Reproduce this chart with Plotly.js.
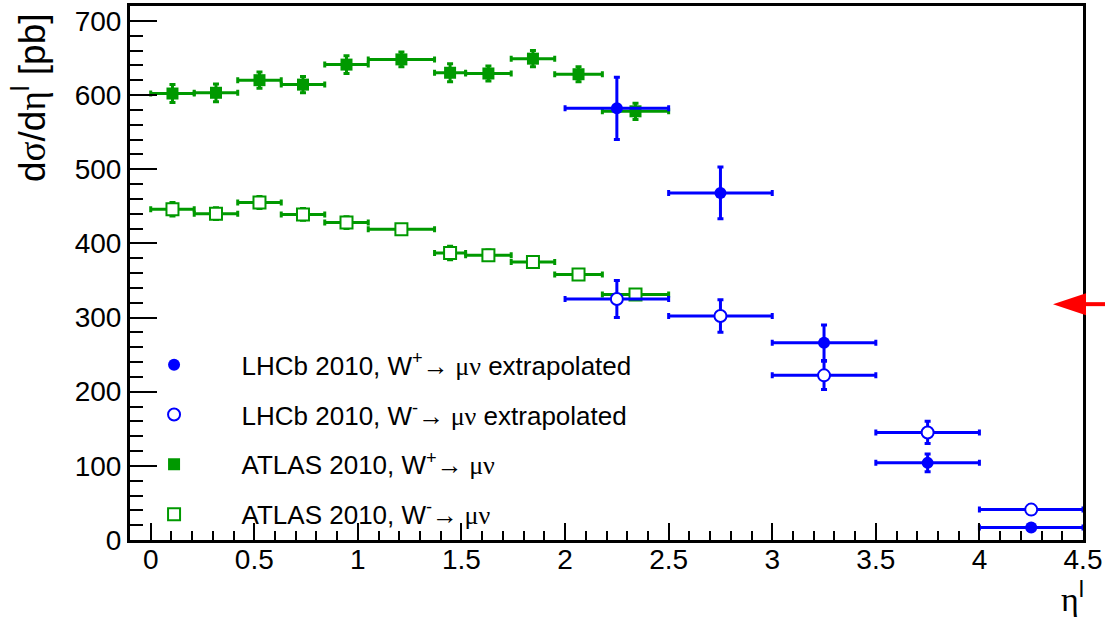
<!DOCTYPE html>
<html>
<head>
<meta charset="utf-8">
<script src="https://cdn.plot.ly/plotly-3.0.1.min.js"></script>
<style>
html,body{margin:0;padding:0;background:#fff;}
#chart{width:1105px;height:617px;}
</style>
</head>
<body>
<div id="chart"></div>
<script>
// ---- data ----
// ATLAS 2010 bins in |eta|
const atlasEdgesLo = [0.00, 0.21, 0.42, 0.63, 0.84, 1.05, 1.37, 1.52, 1.74, 1.95, 2.18];
const atlasEdgesHi = [0.21, 0.42, 0.63, 0.84, 1.05, 1.37, 1.52, 1.74, 1.95, 2.18, 2.50];
const atlasWplus     = [602, 603, 620, 614, 641, 648, 630, 629, 649, 628, 578];
const atlasWplusErr  = [12, 12, 11, 11, 12, 10, 12, 10, 11, 10, 11];
const atlasWminus    = [446, 440, 455, 439, 428, 419, 387, 384, 375, 358, 331];
const atlasWminusErr = [9, 8, 8, 8, 8, 6, 9, 7, 7, 5, 6];

// LHCb 2010 bins in eta
const lhcbEdgesLo = [2.0, 2.5, 3.0, 3.5, 4.0];
const lhcbEdgesHi = [2.5, 3.0, 3.5, 4.0, 4.5];
const lhcbWplus     = [582, 468, 266, 104, 17];
const lhcbWplusErr  = [42, 35, 24, 12, 3];
const lhcbWminus    = [325, 302, 222, 145, 41];
const lhcbWminusErr = [25, 22, 19, 15, 3];

// red arrow marker on the right edge
const arrowValue = 318;

const xRange = [-0.1, 4.5];
const yRange = [0, 720];

const xTickVals = [0, 0.5, 1, 1.5, 2, 2.5, 3, 3.5, 4, 4.5];
const xTickText = ['0', '0.5', '1', '1.5', '2', '2.5', '3', '3.5', '4', '4.5'];
const yTickVals = [0, 100, 200, 300, 400, 500, 600, 700];
const yTickText = ['0', '100', '200', '300', '400', '500', '600', '700'];

const ARROW = '<span style="font-family:\'Liberation Serif\'">\u2192</span>';
const MUNU = '<span style="font-family:\'Liberation Serif\'"> \u03bc\u03bd</span>';
const legendNames = [
  'LHCb 2010, W<sup>+</sup>' + ARROW + MUNU + ' extrapolated',
  'LHCb 2010, W<sup>-</sup>' + ARROW + MUNU + ' extrapolated',
  'ATLAS 2010, W<sup>+</sup>' + ARROW + MUNU,
  'ATLAS 2010, W<sup>-</sup>' + ARROW + MUNU
];

// ---- derived ----
const mid = (lo, hi) => lo.map((l, i) => (l + hi[i]) / 2);
const half = (lo, hi) => lo.map((l, i) => (hi[i] - l) / 2);

const BLUE = '#0000ff';
const GREEN = '#009900';
const FONT = '"Liberation Sans", Arial, Helvetica, sans-serif';

function trace(x, xe, y, ye, color, symbol, open, name, group) {
  return {
    type: 'scatter', mode: 'markers', name: name,
    legendgroup: group,
    x: x, y: y,
    error_x: {type: 'data', array: xe, symmetric: true, color: color, thickness: 3, width: 3},
    error_y: {type: 'data', array: ye, symmetric: true, color: color, thickness: 3, width: 3},
    marker: {
      symbol: symbol, size: 12,
      color: open ? '#ffffff' : color,
      line: {color: color, width: open ? 2 : 0}
    },
    cliponaxis: false
  };
}

const ax = mid(atlasEdgesLo, atlasEdgesHi), axe = half(atlasEdgesLo, atlasEdgesHi);
const lx = mid(lhcbEdgesLo, lhcbEdgesHi), lxe = half(lhcbEdgesLo, lhcbEdgesHi);

const data = [
  trace(ax, axe, atlasWplus, atlasWplusErr, GREEN, 'square', false, legendNames[2], 'g3'),
  trace(ax, axe, atlasWminus, atlasWminusErr, GREEN, 'square', true, legendNames[3], 'g4'),
  trace(lx, lxe, lhcbWplus, lhcbWplusErr, BLUE, 'circle', false, legendNames[0], 'g1'),
  trace(lx, lxe, lhcbWminus, lhcbWminusErr, BLUE, 'circle', true, legendNames[1], 'g2')
];
// legend order: LHCb first
data[0].legendrank = 3; data[1].legendrank = 4; data[2].legendrank = 1; data[3].legendrank = 2;

// arrow geometry in paper coords
const plotL = 130, plotR = 1083, plotT = 6, plotB = 540;
const pw = plotR - plotL, ph = plotB - plotT;
const ay = (arrowValue - yRange[0]) / (yRange[1] - yRange[0]);
const tipX = (1053 - plotL) / pw, baseX = (1086 - plotL) / pw, endX = (1105 - plotL) / pw;
const hh = 11 / ph;

const layout = {
  width: 1105, height: 617,
  margin: {l: plotL, r: 1105 - plotR, t: plotT, b: 617 - plotB, pad: 0},
  paper_bgcolor: '#ffffff', plot_bgcolor: '#ffffff',
  font: {family: FONT, color: '#000', size: 26},
  showlegend: true,
  legend: {
    x: -0.0246, y: 0.372, xanchor: 'left', yanchor: 'top',
    bgcolor: 'rgba(0,0,0,0)', borderwidth: 0,
    font: {family: FONT, size: 26, color: '#000'},
    traceorder: 'grouped', tracegroupgap: 13,
    itemwidth: 125, itemclick: false
  },
  xaxis: {
    range: xRange, showgrid: false, zeroline: false,
    showline: true, linecolor: '#000', linewidth: 3, mirror: true,
    ticks: 'inside', ticklen: 17, tickwidth: 2, tickcolor: '#000',
    tickmode: 'array', tickvals: xTickVals, ticktext: xTickText,
    tickfont: {family: FONT, size: 28, color: '#000'},
    ticklabelstandoff: -8,
    minor: {dtick: 0.1, ticks: 'inside', ticklen: 9, tickwidth: 2, tickcolor: '#000', showgrid: false}
  },
  yaxis: {
    range: yRange, showgrid: false, zeroline: false,
    showline: true, linecolor: '#000', linewidth: 3, mirror: true,
    ticks: 'inside', ticklen: 27, tickwidth: 2, tickcolor: '#000',
    tickmode: 'array', tickvals: yTickVals, ticktext: yTickText,
    tickfont: {family: FONT, size: 28, color: '#000'},
    ticklabelstandoff: 0,
    minor: {dtick: 20, ticks: 'inside', ticklen: 13, tickwidth: 2, tickcolor: '#000', showgrid: false}
  },
  annotations: [
    {
      xref: 'paper', yref: 'paper', x: (30 - plotL) / pw, y: (plotB - 98) / ph,
      xanchor: 'center', yanchor: 'middle', textangle: -90, showarrow: false,
      text: 'd<span style="font-family:\'Liberation Serif\'">\u03c3</span>/d<span style="font-family:\'Liberation Serif\'">\u03b7</span><sup>l</sup> [pb]',
      font: {family: FONT, size: 37, color: '#000'}
    },
    {
      xref: 'paper', yref: 'paper', x: (1072 - plotL) / pw, y: (plotB - 596) / ph,
      xanchor: 'center', yanchor: 'middle', showarrow: false,
      text: '<span style="font-family:\'Liberation Serif\'">\u03b7</span><sup>l</sup>',
      font: {family: FONT, size: 34, color: '#000'}
    }
  ],
  shapes: [
    {
      type: 'path', xref: 'paper', yref: 'paper', layer: 'above',
      path: 'M ' + tipX + ' ' + ay + ' L ' + baseX + ' ' + (ay + hh) + ' L ' + baseX + ' ' + (ay - hh) + ' Z',
      fillcolor: '#ff0000', line: {width: 0}
    },
    {
      type: 'line', xref: 'paper', yref: 'paper', layer: 'above',
      x0: baseX, x1: endX, y0: ay, y1: ay,
      line: {color: '#ff0000', width: 4}
    }
  ]
};

Plotly.newPlot('chart', data, layout, {displayModeBar: false, staticPlot: true});
</script>
</body>
</html>
